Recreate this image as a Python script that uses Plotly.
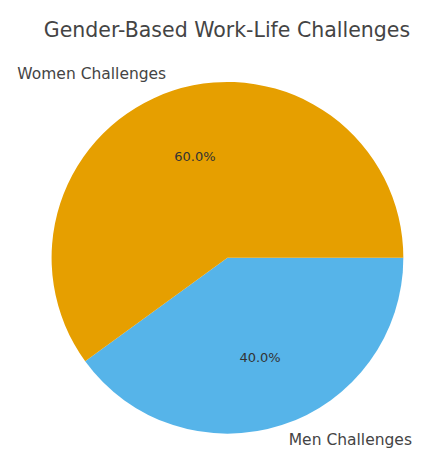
import plotly.graph_objects as go

categories = ["Women Challenges", "Men Challenges"]
values = [60, 40]
colors = ["#E69F00", "#56B4E9"]

# plotly lays slices clockwise from 3 o'clock here; feed them reversed so the
# result matches a counter-clockwise layout starting at 3 o'clock
labs = categories[::-1]
vals = values[::-1]
cols = colors[::-1]

W, H = 413, 446
CX, CY, R = 220, 191, 179.5


def dom(r, cy=CY):
    return dict(x=[(CX - r) / W, (CX + r) / W], y=[(cy - r) / H, (cy + r) / H])


common = dict(labels=labs, values=vals, sort=False, direction="clockwise",
              rotation=90, showlegend=False)

fig = go.Figure()
# coloured wedges
fig.add_trace(go.Pie(
    **common, marker=dict(colors=cols, line=dict(width=0)),
    textinfo="none", domain=dom(R),
))
# percentage text
fig.add_trace(go.Pie(
    **common, hole=0.2,
    marker=dict(colors=["rgba(0,0,0,0)"] * 2, line=dict(width=0)),
    textinfo="percent", texttemplate="%{percent:.1%}",
    textposition="inside", insidetextorientation="horizontal",
    textfont=dict(family="DejaVu Sans", size=13, color="#333333"),
    domain=dom(R, CY + 1), hoverinfo="skip",
))
# outer labels
fig.add_trace(go.Pie(
    **common,
    marker=dict(colors=["rgba(0,0,0,0)"] * 2, line=dict(width=0)),
    textinfo="label", textposition="outside",
    textfont=dict(family="DejaVu Sans", size=15.5, color="#444444"),
    domain=dom(R + 8, CY + 1), hoverinfo="skip",
))
fig.update_layout(
    width=W, height=H,
    margin=dict(l=0, r=0, t=0, b=0),
    paper_bgcolor="white", plot_bgcolor="white",
    title=dict(text="Gender-Based Work-Life Challenges", x=219 / W, xanchor="center",
               y=1 - 22 / H, yanchor="middle",
               font=dict(family="DejaVu Sans", size=20.5, color="#444444")),
)
fig.write_html("out.html")
